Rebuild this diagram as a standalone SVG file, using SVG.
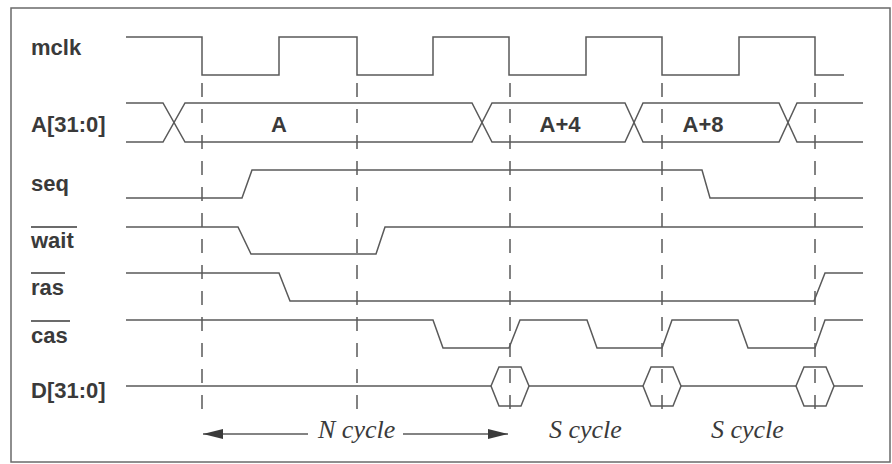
<svg xmlns="http://www.w3.org/2000/svg" width="892" height="464" viewBox="0 0 892 464">
<style>
.sig{fill:none;stroke:#5a5a5a;stroke-width:1.5;stroke-linejoin:miter}
.dash{fill:none;stroke:#5a5a5a;stroke-width:1.5;stroke-dasharray:14 12}
.lbl{font-family:"Liberation Sans",Arial,sans-serif;font-weight:bold;font-size:22px;fill:#3a3a3a}
.val{font-family:"Liberation Sans",Arial,sans-serif;font-weight:bold;font-size:22px;fill:#3a3a3a;text-anchor:middle}
.cyc{font-family:"Liberation Serif","Times New Roman",serif;font-style:italic;font-size:26px;fill:#3a3a3a}
.ovl{stroke:#3a3a3a;stroke-width:1.5}
</style>
<defs>
<marker id="ah" viewBox="0 0 20 10" refX="20" refY="5" markerWidth="20" markerHeight="10" markerUnits="userSpaceOnUse" orient="auto-start-reverse">
<path d="M0,0 L20,5 L0,10 Z" fill="#3a3a3a"/>
</marker>
</defs>
<rect x="0" y="0" width="892" height="464" fill="#ffffff"/>
<rect x="11" y="8" width="879" height="454" fill="none" stroke="#6a6a6a" stroke-width="1.5"/>

<g id="grid">
<line class="dash" x1="202" y1="83" x2="202" y2="415"/>
<line class="dash" x1="357" y1="83" x2="357" y2="415"/>
<line class="dash" x1="510" y1="83" x2="510" y2="415"/>
<line class="dash" x1="662" y1="83" x2="662" y2="415"/>
<line class="dash" x1="815" y1="83" x2="815" y2="415"/>
</g>

<g id="mclk">
<text class="lbl" x="31" y="55">mclk</text>
<path class="sig" d="M126,37 H202 V75 H279 V37 H357 V75 H433 V37 H509 V75 H586 V37 H662 V75 H739 V37 H815 V75 H844"/>
</g>

<g id="addr">
<text class="lbl" x="31" y="132">A[31:0]</text>
<path class="sig" d="M126,103 H163 L185,142 H472 L492,103 H625 L643,142 H779 L797,103 H863"/>
<path class="sig" d="M126,142 H163 L185,103 H472 L492,142 H625 L643,103 H779 L797,142 H863"/>
<text class="val" x="279" y="132">A</text>
<text class="val" x="560" y="132">A+4</text>
<text class="val" x="703" y="132">A+8</text>
</g>

<g id="seq">
<text class="lbl" x="31" y="191">seq</text>
<path class="sig" d="M126,198 H242 L252,170 H702 L710,198 H863"/>
</g>

<g id="wait">
<text class="lbl" x="31" y="248">wait</text>
<line class="ovl" x1="31" y1="227" x2="77" y2="227"/>
<path class="sig" d="M126,227 H238 L251,254 H376 L385,227 H863"/>
</g>

<g id="ras">
<text class="lbl" x="31" y="295">ras</text>
<line class="ovl" x1="31" y1="273" x2="65" y2="273"/>
<path class="sig" d="M126,273 H279 L290,301 H814 L825,273 H863"/>
</g>

<g id="cas">
<text class="lbl" x="31" y="343">cas</text>
<line class="ovl" x1="31" y1="321" x2="70" y2="321"/>
<path class="sig" d="M126,320 H433 L443,348 H509 L520,320 H587 L597,348 H662 L672,320 H738 L748,348 H815 L825,320 H863"/>
</g>

<g id="data">
<text class="lbl" x="31" y="398">D[31:0]</text>
<path class="sig" d="M126,386 H491 M529,386 H643 M681,386 H796 M834,386 H863"/>
<path class="sig" d="M491,386 L499,367 H521 L529,386 L521,406 H499 Z"/>
<path class="sig" d="M643,386 L651,367 H673 L681,386 L673,406 H651 Z"/>
<path class="sig" d="M796,386 L804,367 H826 L834,386 L826,406 H804 Z"/>
</g>

<g id="connectors">
<line class="sig" x1="203" y1="434" x2="308" y2="434" marker-start="url(#ah)"/>
<line class="sig" x1="403" y1="434" x2="508" y2="434" marker-end="url(#ah)"/>
</g>

<g id="labels">
<text class="cyc" x="318" y="438">N cycle</text>
<text class="cyc" x="549" y="438">S cycle</text>
<text class="cyc" x="711" y="438">S cycle</text>
</g>
</svg>
